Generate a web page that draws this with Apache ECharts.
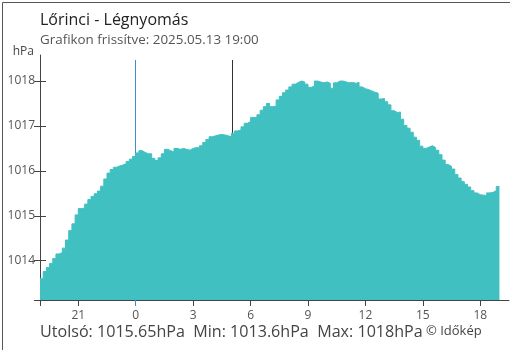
<!DOCTYPE html>
<html>
<head>
<meta charset="utf-8">
<script src="https://cdn.jsdelivr.net/npm/echarts@6/dist/echarts.min.js"></script>
<style>
html,body{margin:0;padding:0;background:#fff;}
#chart{width:510px;height:350px;}
</style>
</head>
<body>
<div id="chart"></div>
<script>
// ---- data ----
const titleText = 'Lőrinci - Légnyomás';
const subtitleText = 'Grafikon frissítve: 2025.05.13 19:00';
const unitText = 'hPa';
const footerText = 'Utolsó: 1015.65hPa  Min: 1013.6hPa  Max: 1018hPa';
const creditText = '© Időkép';

const startHour = 19;      // 2025.05.12 19:00
const stepMinutes = 10;    // one reading every 10 minutes
const pressure = [
 1013.60,1013.76,1013.85,1013.94,1014.05,1014.15,1014.18,1014.28,1014.46,1014.67,
 1014.82,1015.02,1015.16,1015.17,1015.26,1015.36,1015.43,1015.49,1015.55,1015.66,
 1015.82,1015.95,1016.03,1016.08,1016.11,1016.13,1016.16,1016.21,1016.26,1016.32,
 1016.40,1016.45,1016.41,1016.38,1016.38,1016.28,1016.23,1016.29,1016.38,1016.48,
 1016.45,1016.42,1016.50,1016.48,1016.50,1016.48,1016.46,1016.50,1016.52,1016.51,
 1016.56,1016.63,1016.70,1016.76,1016.78,1016.80,1016.81,1016.80,1016.78,1016.76,
 1016.84,1016.89,1016.91,1016.98,1017.06,1017.10,1017.19,1017.19,1017.25,1017.35,
 1017.43,1017.50,1017.43,1017.44,1017.58,1017.66,1017.74,1017.80,1017.87,1017.93,
 1017.97,1018.00,1017.98,1017.93,1017.86,1017.89,1018.00,1017.98,1017.96,1017.98,
 1017.95,1017.84,1017.96,1018.00,1018.00,1017.98,1017.96,1017.97,1017.95,1017.97,
 1017.87,1017.83,1017.81,1017.78,1017.75,1017.73,1017.60,1017.61,1017.54,1017.47,
 1017.34,1017.30,1017.31,1017.15,1017.01,1016.95,1016.86,1016.75,1016.68,1016.55,
 1016.50,1016.53,1016.56,1016.52,1016.46,1016.36,1016.24,1016.14,1016.10,1016.04,
 1015.92,1015.84,1015.76,1015.70,1015.64,1015.56,1015.51,1015.47,1015.46,1015.45,
 1015.51,1015.52,1015.56,1015.65,1015.65
];

const xTickHours = [19, 21, 24, 27, 30, 33, 36, 39, 42];
const xLabelHours = [21, 24, 27, 30, 33, 36, 39, 42];
const yLabelValues = [1014, 1015, 1016, 1017, 1018];
const yMin = 1013.125, yMax = 1018.58;
const xMin = 19, xMax = 43.5;
const midnightHour = 24;
const sunriseHour = 29.05;   // 05:03
const markTop = 1018.47;

// ---- build ----
const seriesData = pressure.map((v, i) => [startHour + i * stepMinutes / 60, v]);
const yTickValues = [yMin].concat(yLabelValues);

const fill = '#40c0c1';
const axisColor = '#444';
const labelColor = '#555';
const font = 'Open Sans';

const chart = echarts.init(document.getElementById('chart'), null, {renderer: 'canvas'});
chart.setOption({
  animation: false,
  backgroundColor: '#fff',
  grid: {left: 40, right: 1, top: 55, bottom: 50, containLabel: false},
  xAxis: [{
    type: 'value', min: xMin, max: xMax,
    splitLine: {show: false},
    axisLine: {show: true, onZero: false, lineStyle: {color: axisColor, width: 1}},
    axisTick: {show: true, length: 6, lineStyle: {color: axisColor}, customValues: xTickHours},
    axisLabel: {show: true, margin: 10, color: labelColor, fontSize: 12, fontFamily: font,
      customValues: xLabelHours, formatter: v => String(v % 24)}
  }, {
    type: 'value', min: xMin, max: xMax, position: 'bottom',
    splitLine: {show: false},
    axisLine: {show: false},
    axisTick: {show: true, length: 6, lineStyle: {color: '#3a8fd0'}, customValues: [midnightHour]},
    axisLabel: {show: false}
  }],
  yAxis: [{
    type: 'value', min: yMin, max: yMax,
    splitLine: {show: false},
    axisLine: {show: true, onZero: false, lineStyle: {color: axisColor, width: 1}},
    axisTick: {show: true, length: 6, lineStyle: {color: axisColor}, customValues: yTickValues},
    axisLabel: {show: true, margin: 5, color: labelColor, fontSize: 12, fontFamily: font,
      customValues: yLabelValues, formatter: v => String(v)}
  }, {
    type: 'value', min: yMin, max: yMax, position: 'left',
    splitLine: {show: false},
    axisLine: {show: false},
    axisTick: {show: true, inside: true, length: 6, lineStyle: {color: axisColor}, customValues: yTickValues},
    axisLabel: {show: false}
  }],
  series: [{
    type: 'line',
    data: seriesData,
    step: 'end',
    symbol: 'none',
    z: 3,
    lineStyle: {width: 1, color: fill},
    itemStyle: {color: fill},
    areaStyle: {color: fill, opacity: 1, origin: 'start'},
    silent: true
  }, {
    type: 'line',
    data: [],
    symbol: 'none',
    z: 1,
    silent: true,
    markLine: {
      z: 1,
      silent: true,
      symbol: ['none', 'none'],
      label: {show: false},
      data: [
        [{coord: [midnightHour, yMin], lineStyle: {color: '#3a8fd0', width: 1, type: 'solid'}},
         {coord: [midnightHour, markTop]}],
        [{coord: [sunriseHour, yMin], lineStyle: {color: '#333', width: 1, type: 'solid'}},
         {coord: [sunriseHour, markTop]}]
      ]
    }
  }],
  graphic: [
    {type: 'rect', left: 0, top: 0, silent: true, z: 100,
     shape: {x: 0.5, y: 0.5, width: 508, height: 348},
     style: {fill: 'none', stroke: '#555', lineWidth: 1}},
    {type: 'text', x: 40, y: 20, silent: true,
     style: {text: titleText, font: '16px "Open Sans"', fill: '#222', verticalAlign: 'middle', align: 'left'}},
    {type: 'text', x: 40, y: 40.5, silent: true,
     style: {text: subtitleText, font: '13.4px "Open Sans"', fill: '#555', verticalAlign: 'middle', align: 'left'}},
    {type: 'text', x: 34, y: 51.5, silent: true,
     style: {text: unitText, font: '12px "Open Sans"', fill: '#444', verticalAlign: 'middle', align: 'right'}},
    {type: 'text', x: 40, y: 332, silent: true,
     style: {text: footerText, font: '16.1px "Open Sans"', fill: '#444', verticalAlign: 'middle', align: 'left'}},
    {type: 'text', x: 426, y: 331, silent: true,
     style: {text: creditText, font: '13px "Open Sans"', fill: '#444', verticalAlign: 'middle', align: 'left'}}
  ]
});
</script>
</body>
</html>
